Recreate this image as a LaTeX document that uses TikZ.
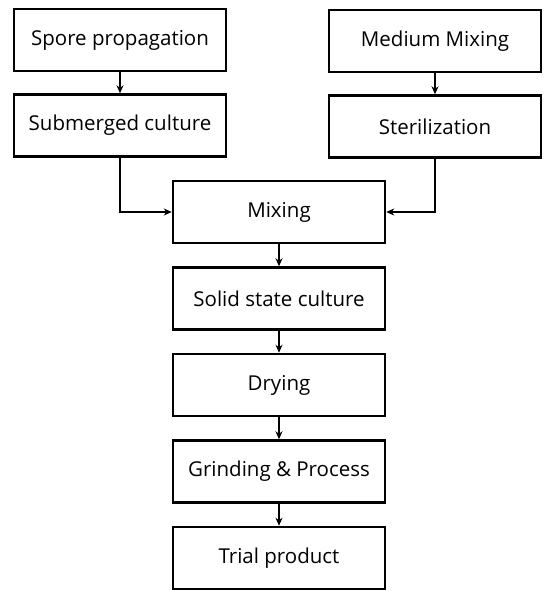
\documentclass[tikz,border=0pt]{standalone}
\usepackage{fontspec}
\setmainfont{Open Sans}
\usetikzlibrary{arrows.meta, positioning}
\tikzset{
    font=\fontsize{20.5}{24}\selectfont,
    stepbox/.style={rectangle, draw=black, line width=2.5pt, align=center, minimum width=212pt, minimum height=62pt, inner sep=0pt},
    arrow/.style={-{Stealth[length=8pt, width=7pt]}, line width=2pt}
}
\begin{document}
\begin{tikzpicture}[x=1pt, y=-1pt, node distance=22pt]
    \useasboundingbox (0,0) rectangle (544,591);

    % Two input branches
    \node (spore) [stepbox] at (120,40) {Spore propagation};
    \node (subm)  [stepbox, below=21pt of spore] {Submerged culture};
    \node (medium) [stepbox] at (435,41) {Medium Mixing};
    \node (steril) [stepbox, below=21pt of medium] {Sterilization};

    % Main line
    \node (mixing) [stepbox] at (279,212) {Mixing};
    \node (solid)  [stepbox, below=of mixing] {Solid state culture};
    \node (drying) [stepbox, below=of solid] {Drying};
    \node (grind)  [stepbox, below=of drying] {Grinding \& Process};
    \node (trial)  [stepbox, below=of grind] {Trial product};

    % Paths
    \draw [arrow] (spore) -- (subm);
    \draw [arrow] (medium) -- (steril);
    \draw [arrow] (subm.south) |- (mixing.west);
    \draw [arrow] (steril.south) |- (mixing.east);
    \draw [arrow] (mixing) -- (solid);
    \draw [arrow] (solid) -- (drying);
    \draw [arrow] (drying) -- (grind);
    \draw [arrow] (grind) -- (trial);

\end{tikzpicture}
\end{document}
